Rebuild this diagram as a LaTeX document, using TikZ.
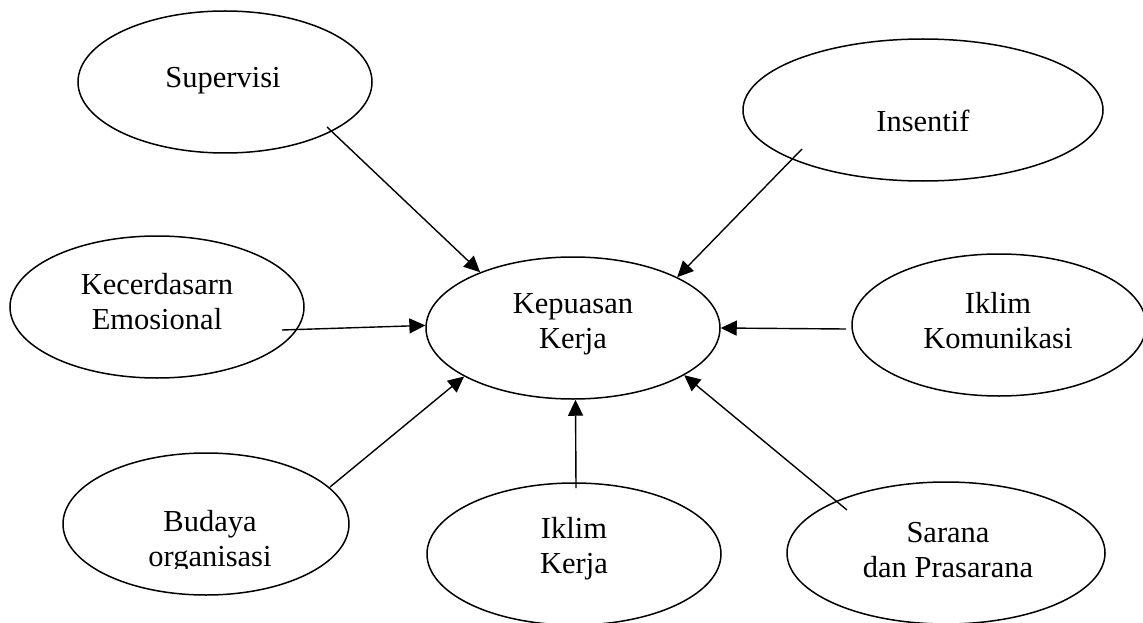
\documentclass[tikz,border=0pt]{standalone}
\usepackage{fontspec}
\setmainfont{Liberation Serif}
\usetikzlibrary{shapes.geometric,arrows.meta}
\begin{document}
\begin{tikzpicture}[x=1pt,y=-1pt,
  oval/.style={draw, line width=1.5pt, ellipse, inner sep=0pt, minimum width=294pt, minimum height=142pt},
  lbl/.style={align=center, font=\fontsize{30.5}{35}\selectfont, inner sep=0pt},
  conn/.style={line width=1.4pt, -{Triangle[length=16pt,width=15pt]}}]
\useasboundingbox (0,0) rectangle (1143,623);
% ellipses
\node[oval] (sup) at (225,82) {};
\node[oval, minimum width=360pt] (ins) at (923,110) {};
\node[oval] (kec) at (157,307) {};
\node[oval] (kep) at (573,328) {};
\node[oval] (kom) at (999,325) {};
\node[oval, minimum width=286pt] (bud) at (206,524) {};
\node[oval] (ikk) at (574,554) {};
\node[oval, minimum width=318pt] (sar) at (946,553) {};
% texts
\node[lbl] (supT) at (223,81) {Supervisi};
\node[lbl] (insT) at (923,121) {Insentif};
\node[lbl] (kecT) at (157,302) {Kecerdasarn\\Emosional};
\node[lbl] (kepT) at (573,324) {Kepuasan\\Kerja};
\node[lbl] (komT) at (998,321) {Iklim\\Komunikasi};
\begin{scope}
\clip (0,0) rectangle (1143,568);
\node[lbl] (budT) at (210,542) {Budaya\\organisasi};
\end{scope}
\node[lbl] (ikkT) at (574,549) {Iklim\\Kerja};
\node[lbl] (sarT) at (948,550) {Sarana\\dan Prasarana};
% connector start points
\coordinate (s1) at (327,127);
\coordinate (s2) at (802,149);
\coordinate (s3) at (282,330);
\coordinate (s4) at (846,329);
\coordinate (s5) at (330,487);
\coordinate (s6) at (576,488);
\coordinate (s7) at (847,510);
% connectors
\draw[conn] (s1) -- (kep.149);
\draw[conn] (s2) -- (kep.26);
\draw[conn] (s3) -- (kep.179);
\draw[conn] (s4) -- (kep.0);
\draw[conn] (s5) -- (kep.204);
\draw[conn] (s6) -- (kep.272);
\draw[conn] (s7) -- (kep.337);
\end{tikzpicture}
\end{document}
